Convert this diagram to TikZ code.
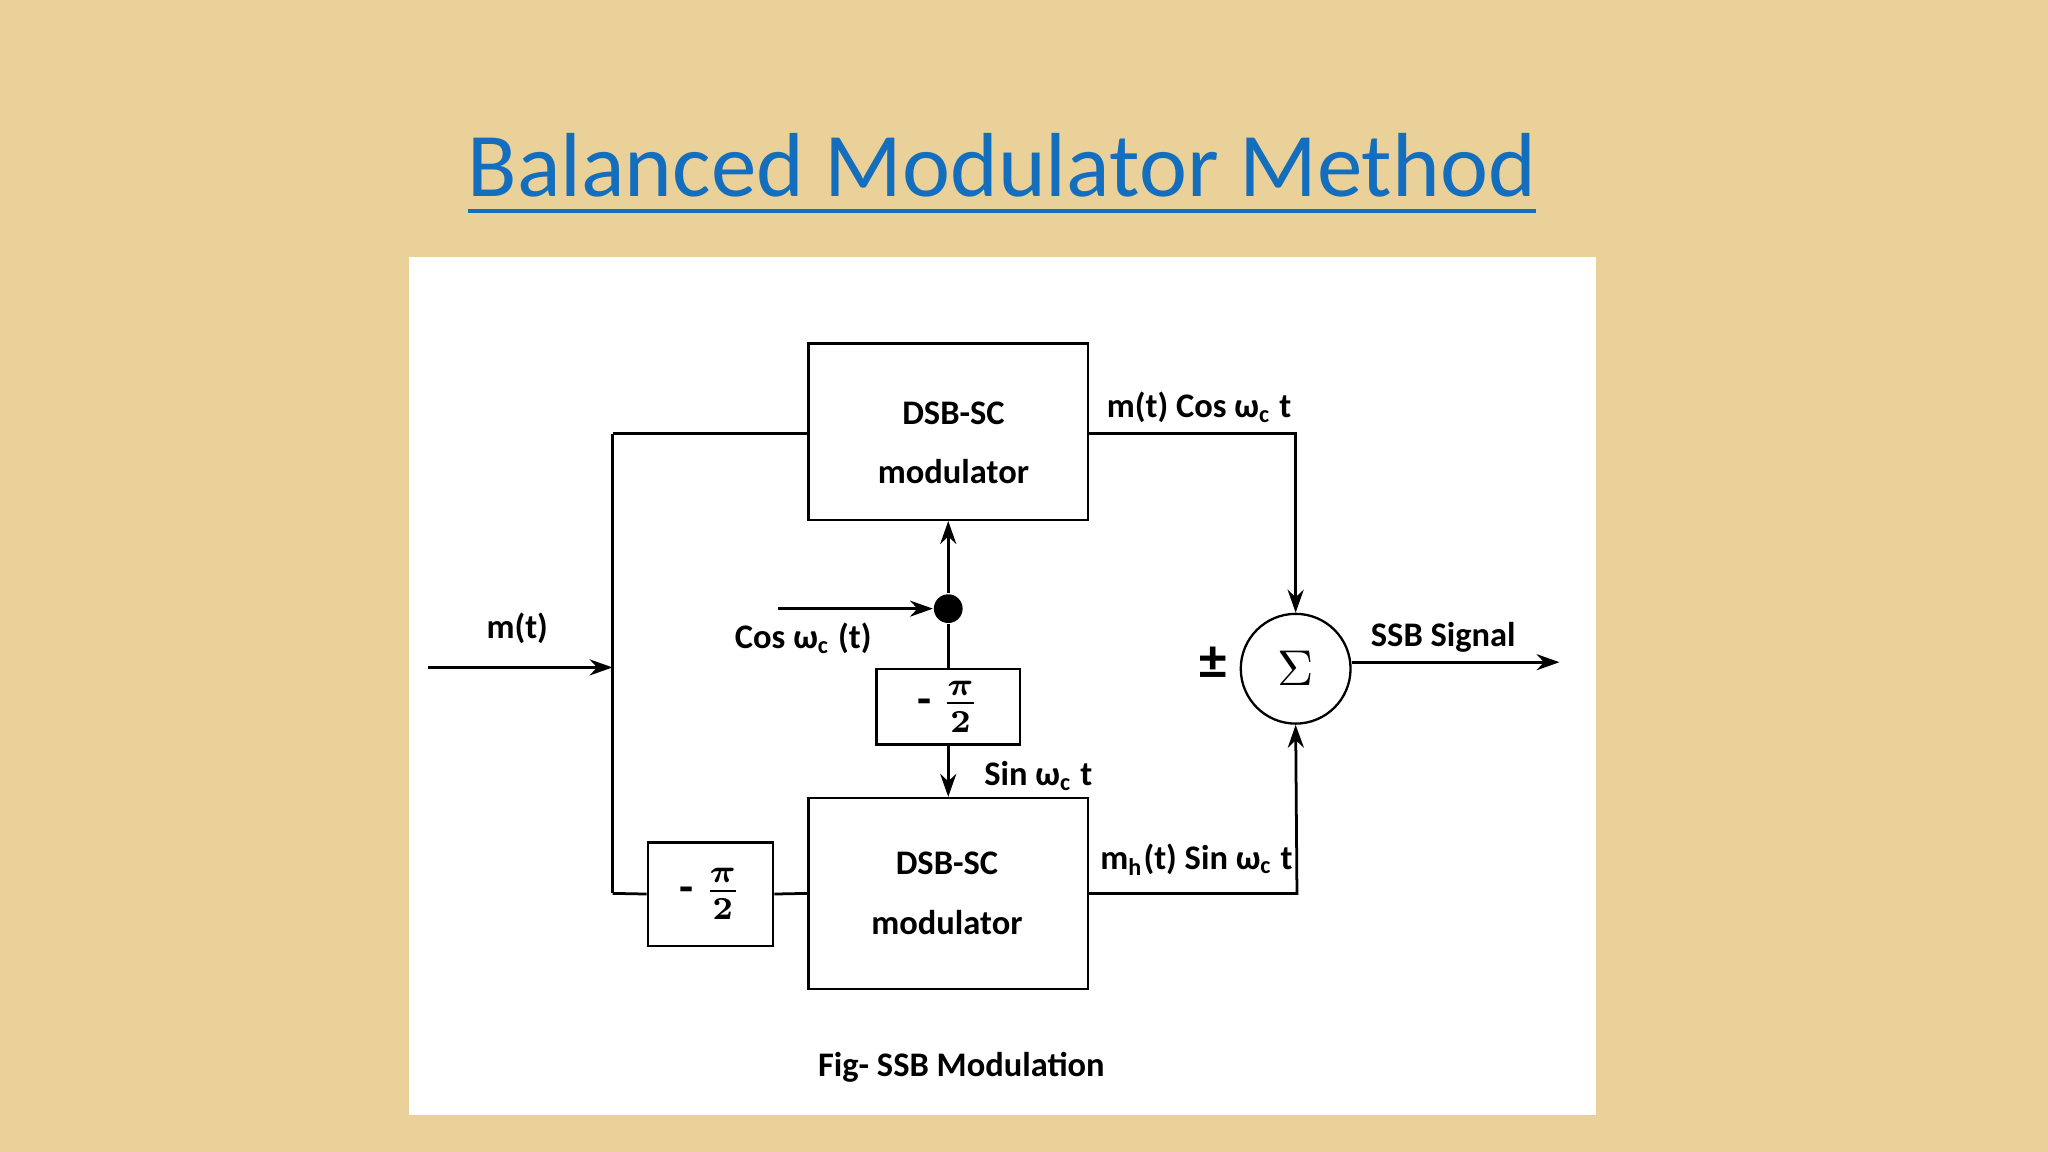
\documentclass[tikz,border=0pt]{standalone}
\usepackage{amsmath,amsbsy}
\usepackage{fontspec}
\setmainfont{Carlito}
\usetikzlibrary{arrows.meta}
\definecolor{bg}{RGB}{234,208,153}
\definecolor{ttl}{RGB}{20,110,190}
\begin{document}
\begin{tikzpicture}[x=0.01cm,y=-0.01cm,
  blk/.style={draw,line width=0.5pt,fill=white,inner sep=0pt},
  ln/.style={line width=0.6pt},
  ar/.style={ln,-{Stealth[length=5pt,width=3.5pt]}},
  lbl/.style={font=\fontsize{7.5pt}{8pt}\selectfont\bfseries},
  btx/.style={align=center,font=\fontsize{7.5pt}{13pt}\selectfont\bfseries}]
\useasboundingbox (0,0) rectangle (1568,882);
\fill[bg] (0,0) rectangle (1568,882);
\fill[white] (313,197) rectangle (1222,854);
\node[text=ttl,font=\fontsize{19.8pt}{22pt}\selectfont] (title) at (767,134) {\underline{Balanced Modulator Method}};
% boxes
\node[blk,minimum width=2.14cm,minimum height=1.35cm] (top) at (726,330.5) {};
\node[btx] (toptx) at (730,339) {DSB-SC\\modulator};
\node[blk,minimum width=2.14cm,minimum height=1.46cm] (bot) at (726,684) {};
\node[btx] (bottx) at (725,684) {DSB-SC\\modulator};
\node[blk,minimum width=1.10cm,minimum height=0.58cm] (pm) at (726,541) {\bfseries - $\boldsymbol{\frac{\pi}{2}}$};
\node[blk,minimum width=0.96cm,minimum height=0.79cm] (pl) at (544,684.5) {\bfseries - $\boldsymbol{\frac{\pi}{2}}$};
\node[circle,fill=black,minimum size=0.22cm,inner sep=0pt] (dot) at (726,466) {};
\node[circle,draw,line width=0.5pt,minimum size=0.84cm,inner sep=0pt,font=\fontsize{11pt}{12pt}\selectfont] (sum) at (992,512) {$\Sigma$};
% coordinates
\coordinate (in) at (328,511);
\coordinate (j) at (469,511);
\coordinate (jt) at (469,332);
\coordinate (jb) at (469,684);
\coordinate (cs) at (596,466);
\coordinate (tr) at (992,332);
\coordinate (br) at (993,684);
\coordinate (out) at (1194,507);
% connectors
\draw[ar] (in) -- (j);
\draw[ln] (jt) -- (jb);
\draw[ln] (jt) -- (top.west |- jt);
\draw[ln] (jb) -- (pl.west);
\draw[ln] (pl.east) -- (bot.west);
\draw[ar] (cs) -- (dot.west);
\draw[ar] (dot) -- (top.south);
\draw[ln] (dot) -- (pm.north);
\draw[ar] (pm.south) -- (bot.north);
\draw[ar] (top.east |- tr) -- (tr) -- (sum.north);
\draw[ar] (bot.east |- br) -- (br) -- (sum.south);
\draw[ar] (sum.east |- out) -- (out);
% labels
\node[lbl] (l1) at (396,481) {m(t)};
\node[lbl] (l2) at (615,489) {Cos ω\textsubscript{c} (t)};
\node[lbl] (l3) at (795,594) {Sin ω\textsubscript{c} t};
\node[lbl] (l4) at (918,312) {m(t) Cos ω\textsubscript{c} t};
\node[lbl] (l5) at (916,658) {m\textsubscript{h}(t) Sin ω\textsubscript{c} t};
\node[lbl] (l6) at (1105,488) {SSB Signal};
\node[font=\fontsize{12pt}{12pt}\selectfont\bfseries] (pmn) at (929,508) {±};
\node[lbl] (cap) at (736,817) {Fig- SSB Modulation};
\end{tikzpicture}
\end{document}
